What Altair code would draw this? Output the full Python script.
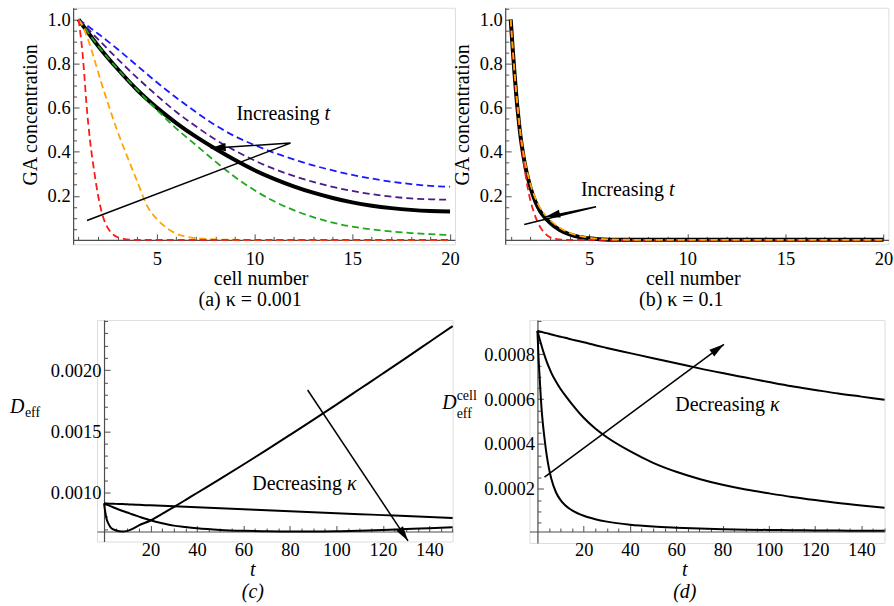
import altair as alt
import pandas as pd

FONT = "Liberation Serif, DejaVu Serif, serif"
AXC = "#4d4d4d"
TICK_FS = 18.5
TXT_FS = 20

# ---------------- panel (a): kappa = 0.001 ----------------
a_cells = [1, 2, 3, 4, 5, 6, 7, 8, 9, 10, 11, 12, 13, 14, 15, 16, 17, 18, 19, 20]
a_blue = [1.0, 0.935, 0.865, 0.79, 0.715, 0.645, 0.58, 0.52, 0.47, 0.43, 0.395, 0.365, 0.338, 0.315, 0.295, 0.278, 0.264, 0.253, 0.245, 0.241]
a_purple = [1.0, 0.91, 0.82, 0.735, 0.655, 0.58, 0.515, 0.455, 0.405, 0.36, 0.322, 0.29, 0.263, 0.24, 0.222, 0.207, 0.196, 0.188, 0.184, 0.182]
a_green = [1.0, 0.88, 0.775, 0.68, 0.59, 0.505, 0.43, 0.355, 0.285, 0.225, 0.175, 0.135, 0.103, 0.078, 0.06, 0.047, 0.038, 0.031, 0.026, 0.022]
a_black = [1.0, 0.88, 0.775, 0.68, 0.60, 0.53, 0.468, 0.413, 0.362, 0.316, 0.277, 0.243, 0.214, 0.19, 0.17, 0.155, 0.144, 0.136, 0.131, 0.129]
a_orange_x = [1, 1.2, 1.4, 1.7, 2.0, 2.5, 3.0, 3.5, 4.0, 4.5, 5.0, 5.5, 6.0, 6.5, 7.0, 8.0, 9.0, 10, 12, 14, 16, 18, 20]
a_orange = [1.0, 0.97, 0.93, 0.85, 0.76, 0.62, 0.49, 0.375, 0.265, 0.155, 0.095, 0.055, 0.028, 0.015, 0.008, 0.002, 0.0005, 0, 0, 0, 0, 0, 0]
a_red_x = [1, 1.1, 1.2, 1.3, 1.4, 1.6, 1.8, 2.0, 2.2, 2.4, 2.6, 2.8, 3.0, 3.3, 3.7, 4, 5, 6, 8, 10, 12, 14, 16, 18, 20]
a_red = [1.0, 0.93, 0.85, 0.74, 0.62, 0.44, 0.31, 0.20, 0.12, 0.07, 0.04, 0.022, 0.012, 0.005, 0.001, 0, 0, 0, 0, 0, 0, 0, 0, 0, 0]

# ---------------- panel (b): kappa = 0.1 ----------------
b_x = [1, 1.1, 1.2, 1.3, 1.4, 1.5, 1.65, 1.8, 2, 2.25, 2.5, 2.75, 3, 3.5, 4, 4.5, 5, 5.5, 6, 7, 8, 10, 12, 14, 16, 18, 20]
b_black = [1.0, 0.87, 0.75, 0.64, 0.55, 0.47, 0.38, 0.31, 0.24, 0.175, 0.13, 0.1, 0.078, 0.045, 0.025, 0.013, 0.007, 0.003, 0.001, 0, 0, 0, 0, 0, 0, 0, 0]
b_orange = [1.0, 0.875, 0.76, 0.655, 0.565, 0.485, 0.395, 0.325, 0.255, 0.19, 0.145, 0.113, 0.09, 0.055, 0.032, 0.018, 0.01, 0.005, 0.002, 0.0005, 0, 0, 0, 0, 0, 0, 0]
b_red_x = [1, 1.2, 1.4, 1.6, 1.8, 2, 2.2, 2.4, 2.6, 2.8, 3, 3.3, 3.6, 4, 5, 6, 8, 10, 12, 14, 16, 18, 20]
b_red = [1.0, 0.74, 0.54, 0.40, 0.27, 0.18, 0.12, 0.075, 0.045, 0.025, 0.012, 0.004, 0.001, 0, 0, 0, 0, 0, 0, 0, 0, 0, 0]

# ---------------- panel (c): D_eff ----------------
c_t = [0, 1, 2, 3, 5, 8, 10, 12, 15, 20, 25, 30, 35, 40, 50, 60, 70, 80, 90, 100, 110, 120, 130, 140, 150]
c_k1 = [0.00091, 0.00079, 0.00074, 0.00071, 0.00069, 0.00068, 0.000685, 0.0007, 0.00073, 0.00077, 0.000825, 0.00088, 0.000937, 0.000995, 0.00111, 0.001228, 0.001348, 0.00147, 0.001593, 0.001718, 0.001845, 0.001972, 0.0021, 0.00223, 0.00236]
c_k2 = [0.00091, 0.000902, 0.000894, 0.000886, 0.00087, 0.000848, 0.000835, 0.000821, 0.000802, 0.000772, 0.000748, 0.000728, 0.000716, 0.000706, 0.000693, 0.000686, 0.000682, 0.00068, 0.00068, 0.000682, 0.000686, 0.000692, 0.0007, 0.000707, 0.000714]
c_k3 = [0.00091, 0.000909, 0.000908, 0.000908, 0.000906, 0.000904, 0.000902, 0.0009, 0.000898, 0.000894, 0.00089, 0.000886, 0.000882, 0.000878, 0.00087, 0.000862, 0.000854, 0.000846, 0.000838, 0.00083, 0.000822, 0.000814, 0.000806, 0.000798, 0.00079]

# ---------------- panel (d): D_eff^cell ----------------
d_t = [0, 0.5, 1, 1.5, 2, 3, 4, 5, 6, 8, 10, 12, 15, 20, 25, 30, 40, 50, 60, 70, 80, 90, 100, 110, 120, 130, 140, 150]
d_k1 = [0.000904, 0.000903, 0.000901, 0.0009, 0.000899, 0.000896, 0.000894, 0.000891, 0.000888, 0.000883, 0.000878, 0.000873, 0.000865, 0.000853, 0.00084, 0.000828, 0.000805, 0.000782, 0.00076, 0.000737, 0.000716, 0.000696, 0.000676, 0.000657, 0.000641, 0.000625, 0.000611, 0.000597]
d_k2 = [0.000904, 0.000885, 0.000866, 0.000848, 0.00083, 0.000797, 0.000767, 0.000741, 0.000717, 0.000678, 0.000645, 0.000617, 0.000577, 0.000517, 0.000469, 0.00043, 0.000368, 0.000316, 0.000276, 0.000244, 0.000218, 0.000197, 0.00018, 0.000164, 0.00015, 0.000137, 0.000126, 0.000116]
d_k3 = [0.000904, 0.00078, 0.00069, 0.0006, 0.00053, 0.00043, 0.00035, 0.00029, 0.000245, 0.000185, 0.00015, 0.000127, 0.000104, 0.00008, 0.000065, 0.000054, 0.00004, 0.000032, 0.000027, 0.000023, 0.00002, 0.000018, 0.000017, 0.000016, 0.000015, 0.000014, 0.0000135, 0.000013]

# ---------------- annotations ----------------
a_note = ([13.32], [0.573], ["Increasing"], ["t"])
b_note = ([8.81], [0.226], ["Increasing"], ["t"])
c_note = ([102.4], [0.00107], ["Decreasing"], ["κ"])
d_note = ([98.3], [0.000575], ["Decreasing"], ["κ"])
a_arrow = ([1.43, 11.84, 7.76], [0.088, 0.439, 0.416], 176)
b_arrow = ([1.69, 5.35, 2.76], [0.07, 0.15, 0.104], 167)
c_arrow = ([87.6, 130.8], [0.001837, 0.000604], 56)
d_arrow = ([3.06, 80.6], [0.000252, 0.000844], 324)

# ---------------- ticks ----------------
ab_x_major = [5, 10, 15, 20]
ab_y_major = [0.2, 0.4, 0.6, 0.8, 1.0]
ab_x_minor = list(range(1, 21))
ab_y_minor = [round(0.05 * i, 2) for i in range(1, 22)]
cd_x_major = [20, 40, 60, 80, 100, 120, 140]
cd_x_minor = list(range(5, 151, 5))
c_y_major = [0.001, 0.0015, 0.002]
c_y_minor = [round(0.0001 * i, 4) for i in range(7, 25)]
d_y_major = [0.0002, 0.0004, 0.0006, 0.0008]
d_y_minor = [round(0.00005 * i, 5) for i in range(1, 20)]

HEAD = "M0,0L-1,-0.27L-1,0.27Z"


def main_x(values, fmt, title, tx, ty, offset, italic=False, lh=None):
    kw = dict(orient="bottom", offset=offset, values=values, format=fmt, labelFont=FONT,
              labelFontSize=TICK_FS, labelColor="black", labelPadding=9.5, labelFlush=False,
              labelOverlap=False, ticks=False, domain=True, domainColor=AXC, domainWidth=1.2,
              grid=False, title=title, titleFont=FONT, titleFontSize=TXT_FS, titleFontWeight="normal",
              titleFontStyle="italic" if italic else "normal", titleColor="black",
              titleX=tx, titleY=ty, titleAlign="center", titleBaseline="alphabetic", titleAngle=0)
    if lh:
        kw["titleLineHeight"] = lh
    return alt.Axis(**kw)


def main_y(values, fmt, title, tx, ty, offset=0, angle=0, align="left", italic=False, fs=TXT_FS):
    return alt.Axis(orient="left", offset=offset, values=values, format=fmt, labelFont=FONT,
                    labelFontSize=TICK_FS, labelColor="black", labelPadding=3, labelFlush=False,
                    labelOverlap=False, ticks=False, domain=True, domainColor=AXC, domainWidth=1.2,
                    grid=False, title=title, titleFont=FONT, titleFontSize=fs, titleFontWeight="normal",
                    titleFontStyle="italic" if italic else "normal", titleColor="black",
                    titleX=tx, titleY=ty, titleAlign=align, titleBaseline="alphabetic", titleAngle=angle)


def tick_axis(orient, offset, values, major, title=None, tx=0, ty=0, fs=14, italic=False):
    test = "indexof([%s], datum.value) >= 0" % ",".join(repr(v) for v in major)
    kw = dict(orient=orient, offset=offset, values=values, labels=False, domain=False, ticks=True,
              tickColor=AXC, tickWidth=1,
              tickSize={"condition": {"test": test, "value": 6}, "value": 3.5},
              grid=False, title=title)
    if title is not None:
        kw.update(titleFont=FONT, titleFontSize=fs, titleFontWeight="normal",
                  titleFontStyle="italic" if italic else "normal", titleColor="black",
                  titleX=tx, titleY=ty, titleAlign="left" if fs < 18 else "center",
                  titleBaseline="alphabetic", titleAngle=0)
    return alt.Axis(**kw)


def enc(chart, xsc, ysc, xaxis=None, yaxis=None, **extra):
    return chart.encode(x=alt.X("x:Q", scale=xsc, axis=xaxis),
                        y=alt.Y("y:Q", scale=ysc, axis=yaxis), **extra)


def curve(xs, ys, xsc, ysc, color, width, dash=None):
    kw = dict(color=color, strokeWidth=width, interpolate="monotone")
    if dash:
        kw["strokeDash"] = dash
    return enc(alt.Chart(pd.DataFrame({"x": xs, "y": ys})).mark_line(**kw), xsc, ysc)


def arrow(spec, xsc, ysc):
    xs, ys, ang = spec
    df = pd.DataFrame({"x": xs, "y": ys, "o": list(range(len(xs)))})
    line = enc(alt.Chart(df).mark_line(color="black", strokeWidth=1.5), xsc, ysc, order="o:Q")
    head = enc(alt.Chart(df.tail(1)).mark_point(shape=HEAD, size=900, filled=True, color="black",
                                                opacity=1, angle=ang, strokeWidth=0), xsc, ysc)
    return [line, head]


def note(spec, xsc, ysc):
    xs, ys, words, syms = spec
    df = pd.DataFrame({"x": xs, "y": ys, "w": words, "s": syms})
    t1 = enc(alt.Chart(df).mark_text(font=FONT, fontSize=TXT_FS, align="right", baseline="middle",
                                     color="black"), xsc, ysc, text="w:N")
    t2 = enc(alt.Chart(df).mark_text(font=FONT, fontSize=TXT_FS, align="left", baseline="middle",
                                     fontStyle="italic", dx=5, color="black"), xsc, ysc, text="s:N")
    return [t1, t2]


def carriers(xs, ys, xsc, ysc, ax_mx, ax_my, ax_tx, ax_ty):
    df = pd.DataFrame({"x": xs, "y": ys})
    c1 = enc(alt.Chart(df).mark_line(opacity=0), xsc, ysc, ax_mx, ax_my)
    c2 = enc(alt.Chart(df).mark_line(opacity=0), xsc, ysc, ax_tx, ax_ty)
    return [c1, c2]


DASH = [7, 4]
RED, ORANGE, GREEN, PURPLE, BLUE = "#ff1a1a", "#ffa500", "#1fa81f", "#4b1a87", "#1a1aff"

# ---- panel (a) / (b) geometry
W_A, W_B = 382.8, 384.2
EXT_AB = 4.5                       # y axis runs a little below the x axis
H_AB = 232.7 + EXT_AB
xa = alt.Scale(domain=[0.72, 20.25], nice=False, zero=False)
ya = alt.Scale(domain=[-EXT_AB / 221, 1.053], nice=False, zero=False)
layers_a = carriers(a_cells, a_black, xa, ya,
                    main_x(ab_x_major, "d", "cell number", 188, 45, -EXT_AB),
                    main_y(ab_y_major, ".1f", "GA concentration", -37, 107, angle=270, align="center"),
                    tick_axis("top", -(H_AB - EXT_AB), ab_x_minor, ab_x_major, "(a) κ = 0.001", 177, 65.5, fs=20),
                    tick_axis("right", -W_A, ab_y_minor, ab_y_major))
layers_a += [curve(a_cells, a_black, xa, ya, "black", 4),
             curve(a_cells, a_blue, xa, ya, BLUE, 1.8, DASH),
             curve(a_cells, a_purple, xa, ya, PURPLE, 1.8, DASH),
             curve(a_cells, a_green, xa, ya, GREEN, 1.8, DASH),
             curve(a_orange_x, a_orange, xa, ya, ORANGE, 1.8, DASH),
             curve(a_red_x, a_red, xa, ya, RED, 1.8, DASH)]
layers_a += arrow(a_arrow, xa, ya) + note(a_note, xa, ya)
panel_a = alt.layer(*layers_a).properties(width=W_A, height=H_AB)

xb = alt.Scale(domain=[0.72, 20.25], nice=False, zero=False)
yb = alt.Scale(domain=[-EXT_AB / 221, 1.053], nice=False, zero=False)
layers_b = carriers(b_x, b_black, xb, yb,
                    main_x(ab_x_major, "d", "cell number", 188, 45, -EXT_AB),
                    main_y(ab_y_major, ".1f", "GA concentration", -37, 107, angle=270, align="center"),
                    tick_axis("top", -(H_AB - EXT_AB), ab_x_minor, ab_x_major, "(b) κ = 0.1", 176, 65.5, fs=20),
                    tick_axis("right", -W_B, ab_y_minor, ab_y_major))
layers_b += [curve(b_x, b_black, xb, yb, "black", 4),
             curve(b_red_x, b_red, xb, yb, RED, 1.8, DASH),
             curve(b_x, b_orange, xb, yb, ORANGE, 1.8, DASH)]
layers_b += arrow(b_arrow, xb, yb) + note(b_note, xb, yb)
panel_b = alt.layer(*layers_b).properties(width=W_B, height=H_AB)

# ---- panel (c)
H_CD = 212.1
C_LEFT, C_EXT = 3.0, 10.0          # x axis runs left of t = 0, y axis runs below the x axis
PXC = 2.33
W_C = (150 + C_LEFT) * PXC
H_C = H_CD + C_EXT
xc = alt.Scale(domain=[-C_LEFT, 150], nice=False, zero=False)
yc = alt.Scale(domain=[0.00068 - C_EXT / 122600, 0.00241], nice=False, zero=False)
layers_c = carriers(c_t, c_k1, xc, yc,
                    main_x(cd_x_major, "d", ["t", "(c)"], 155.7, 44.6, -C_EXT, italic=True, lh=22),
                    main_y(c_y_major, ".4f", "D", -94.7, 93, offset=-C_LEFT * PXC, italic=True),
                    tick_axis("top", -H_CD, cd_x_minor, cd_x_major),
                    tick_axis("right", -(W_C - C_LEFT * PXC), c_y_minor, c_y_major, "eff", -79.8, 96.5, fs=14))
layers_c += [curve(c_t, c_k1, xc, yc, "black", 2),
             curve(c_t, c_k2, xc, yc, "black", 2),
             curve(c_t, c_k3, xc, yc, "black", 2)]
layers_c += arrow(c_arrow, xc, yc) + note(c_note, xc, yc)
panel_c = alt.layer(*layers_c).properties(width=W_C, height=H_C)

# ---- panel (d)
D_LEFT, D_EXT = 3.45, 11.5
PXD = 2.32
W_D = (150 + D_LEFT) * PXD
H_D = H_CD + D_EXT
xd = alt.Scale(domain=[-D_LEFT, 150], nice=False, zero=False)
yd = alt.Scale(domain=[0.00001 - D_EXT / 225000, 0.0009527], nice=False, zero=False)
layers_d = carriers(d_t, d_k1, xd, yd,
                    main_x(cd_x_major, "d", ["t", "(d)"], 155.3, 44.6, -D_EXT, italic=True, lh=22),
                    main_y(d_y_major, ".4f", "D", -96, 88.7, offset=-D_LEFT * PXD, italic=True),
                    tick_axis("top", -H_CD, cd_x_minor, cd_x_major, "cell", -73.5, -132, fs=14),
                    tick_axis("right", -(W_D - D_LEFT * PXD), d_y_minor, d_y_major, "eff", -81.5, 97.5, fs=14))
layers_d += [curve(d_t, d_k1, xd, yd, "black", 2),
             curve(d_t, d_k2, xd, yd, "black", 2),
             curve(d_t, d_k3, xd, yd, "black", 2)]
layers_d += arrow(d_arrow, xd, yd) + note(d_note, xd, yd)
panel_d = alt.layer(*layers_d).properties(width=W_D, height=H_D)


def spacer(w, h):
    return alt.Chart(pd.DataFrame({"v": [0]})).mark_point(opacity=0).properties(width=w, height=h)


row1 = alt.hconcat(panel_a, panel_b, spacing=50.2, bounds="flush")
row2_inner = alt.hconcat(panel_c, panel_d, spacing=529 - (96 + W_C), bounds="flush")
row2 = alt.hconcat(spacer(24, 10), row2_inner, spacing=0, bounds="flush")

chart = alt.vconcat(row1, row2, spacing=9).properties(
    padding={"left": 8.3, "top": 6, "right": 0, "bottom": 0}
).configure_view(stroke=None).configure(font=FONT)

chart.save("out.html", embed_options={"renderer": "svg", "actions": False})
